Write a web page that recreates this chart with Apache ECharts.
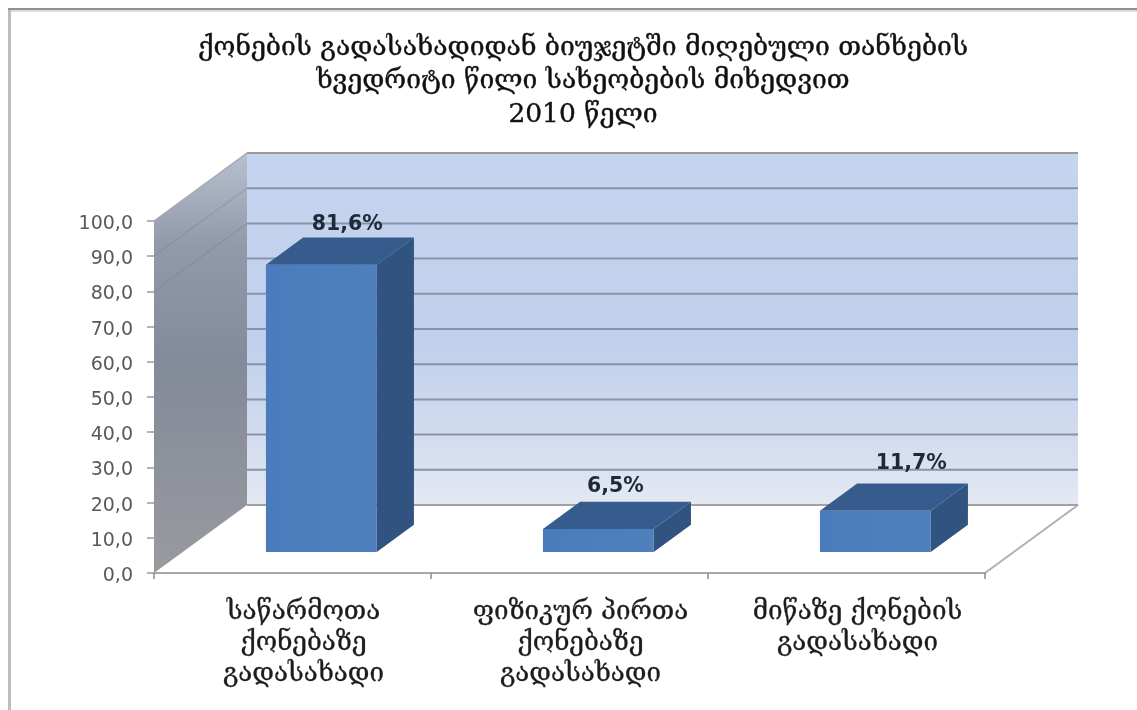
<!DOCTYPE html>
<html><head><meta charset="utf-8">
<style>html,body{margin:0;padding:0;background:#fff}#chart{width:1137px;height:710px;filter:blur(0.5px)}</style>
<script src="https://cdn.jsdelivr.net/npm/echarts@6/dist/echarts.min.js"></script>
</head><body><div id="chart"></div>
<script>
const titleLines = ['ქონების გადასახადიდან ბიუჯეტში მიღებული თანხების','ხვედრიტი წილი სახეობების მიხედვით','2010 წელი'];
const categories = ['საწარმოთა\nქონებაზე\nგადასახადი','ფიზიკურ პირთა\nქონებაზე\nგადასახადი','მიწაზე ქონების\nგადასახადი'];
const shares = [81.6, 6.5, 11.7];
const gridValues = [0,10,20,30,40,50,60,70,80,90,100];

const DX = 93, DY = -68;           // full floor depth projected on screen
const BAR_W = 0.40, D0 = 0.31, D1 = 0.71; // bar width (of band), front & back depth
const LABEL_NUDGE = [[26,-40],[17,-42],[36,-47]]; // hand-placed data labels
const comma = (v, n) => v.toFixed(n).replace('.', ',');

function projector(api){
  const band = api.size([1,0])[0];
  const x0 = api.coord([0,0])[0] - band/2;
  return (pos, val, d) => [x0 + pos*band + d*DX, api.coord([0,val])[1] + d*DY];
}
const poly = (points, fill, z2) => ({type:'polygon', z2, shape:{points}, style:{fill}});
const seg = (a, b, stroke, lineWidth, z2) => ({type:'line', z2, shape:{x1:a[0],y1:a[1],x2:b[0],y2:b[1]}, style:{stroke, lineWidth}});
const vgrad = (stops) => new echarts.graphic.LinearGradient(0,0,0,1,stops.map(([offset,color])=>({offset,color})));

const option = {
  animation:false,
  backgroundColor:'#ffffff',
  title:{
    text:titleLines.join('\n'), left:578, top:26, textAlign:'center',
    textStyle:{fontFamily:'"DejaVu Serif","DejaVu Sans",serif', fontWeight:'normal', fontSize:26.5, lineHeight:33.5, color:'#111',
      textBorderColor:'#222', textBorderWidth:0.4}
  },
  graphic:[
    {type:'rect', z:0, shape:{x:8,y:8,width:3,height:702}, style:{fill:'#bdbdbd'}},
    {type:'rect', z:0, shape:{x:8,y:8,width:1129,height:2}, style:{fill:'#8f8f8f'}},
    {type:'rect', z:0, shape:{x:11,y:10,width:1126,height:2}, style:{fill:'#dcdcdc'}}
  ],
  grid:{left:154, top:221, width:831, height:352},
  xAxis:{
    type:'category', data:categories, boundaryGap:true,
    axisLine:{lineStyle:{color:'#a8a8a8', width:2}},
    axisTick:{show:true, length:6, lineStyle:{color:'#8a8a8a', width:1.5}},
    axisLabel:{interval:0, margin:24, lineHeight:31, fontSize:26, color:'#1c1c1c', padding:[0,0,0,22],
      textBorderColor:'#222', textBorderWidth:0.3,
      fontFamily:'"DejaVu Serif","DejaVu Sans",serif'},
    z:5
  },
  yAxis:{
    type:'value', min:0, max:100, interval:10,
    splitLine:{show:false},
    axisLine:{show:false},
    axisTick:{show:true, length:7, lineStyle:{color:'#9a9a9a', width:1.5}},
    axisLabel:{margin:21, formatter:v=>'{n|'+comma(v,1)+'}',
      rich:{n:{fontSize:19, color:'#595959', fontFamily:'"DejaVu Sans"', padding:[6,0,0,0]}}},
    z:5
  },
  series:[
    { // back wall, side wall, floor edges
      type:'custom', coordinateSystem:'cartesian2d', clip:false, z:1, silent:true,
      data:[[0,0]],
      encode:{x:0,y:1},
      renderItem:(p,api)=>{
        const P = projector(api);
        return {type:'group', children:[
          poly([P(0,100,1),P(3,100,1),P(3,0,1),P(0,0,1)],
            vgrad([[0,'#c5d5ef'],[0.55,'#c0d0ec'],[0.85,'#d6deef'],[1,'#e4e9f3']]),1),
          poly([P(0,100,0),P(0,100,1),P(0,0,1),P(0,0,0)],
            vgrad([[0,'#b7c0cf'],[0.22,'#929aa9'],[0.5,'#838a99'],[1,'#999a9f']]),1),
          seg(P(3,0,1),P(3,0,0),'#b0b0b0',2,2),
          seg(P(0,100,0),P(0,100,1),'#a8a8b0',1.5,2)
        ]};
      }
    },
    { // gridlines on back wall and side wall
      type:'custom', coordinateSystem:'cartesian2d', clip:false, z:2, silent:true,
      data:gridValues.map(v=>[0,v]),
      encode:{x:0,y:1},
      renderItem:(p,api)=>{
        const P = projector(api), v = api.value(1);
        const kids = [seg(P(0,v,1),P(3,v,1), v===100?'#9b9b9b':(v===0?'#a0a0a6':'#8a93a6'), 2, 2)];
        if (v>=80 && v<100) kids.push(seg(P(0,v,0),P(0,v,1),'rgba(120,125,140,0.3)',1.5,2));
        return {type:'group',children:kids};
      }
    },
    { // the bars
      type:'custom', coordinateSystem:'cartesian2d', clip:false, z:3, name:'share',
      data:shares.map((v,i)=>[i,v]),
      encode:{x:0,y:1},
      renderItem:(p,api)=>{
        const P = projector(api), i = api.value(0), v = api.value(1);
        const l = i+0.5-BAR_W/2, r = i+0.5+BAR_W/2;
        const c = P(i+0.5,v,D0);
        return {type:'group',children:[
          poly([P(l,v,D0),P(r,v,D0),P(r,0,D0),P(l,0,D0)],
            new echarts.graphic.LinearGradient(0,0,1,0,[{offset:0,color:'#4a7cbd'},{offset:1,color:'#4f80bd'}]),3),
          poly([P(r,v,D0),P(r,v,D1),P(r,0,D1),P(r,0,D0)],'#31537f',3),
          poly([P(l,v,D0),P(l,v,D1),P(r,v,D1),P(r,v,D0)],'#365c8e',3),
          {type:'text', z2:4, style:{text:comma(v,1)+'%', x:c[0]+LABEL_NUDGE[i][0], y:c[1]+LABEL_NUDGE[i][1], align:'center', verticalAlign:'middle',
            font:'bold 20.5px "DejaVu Sans"', fill:'#1d2a3a'}}
        ]};
      }
    }
  ]
};
echarts.init(document.getElementById('chart'),null,{renderer:'canvas'}).setOption(option);
</script></body></html>
